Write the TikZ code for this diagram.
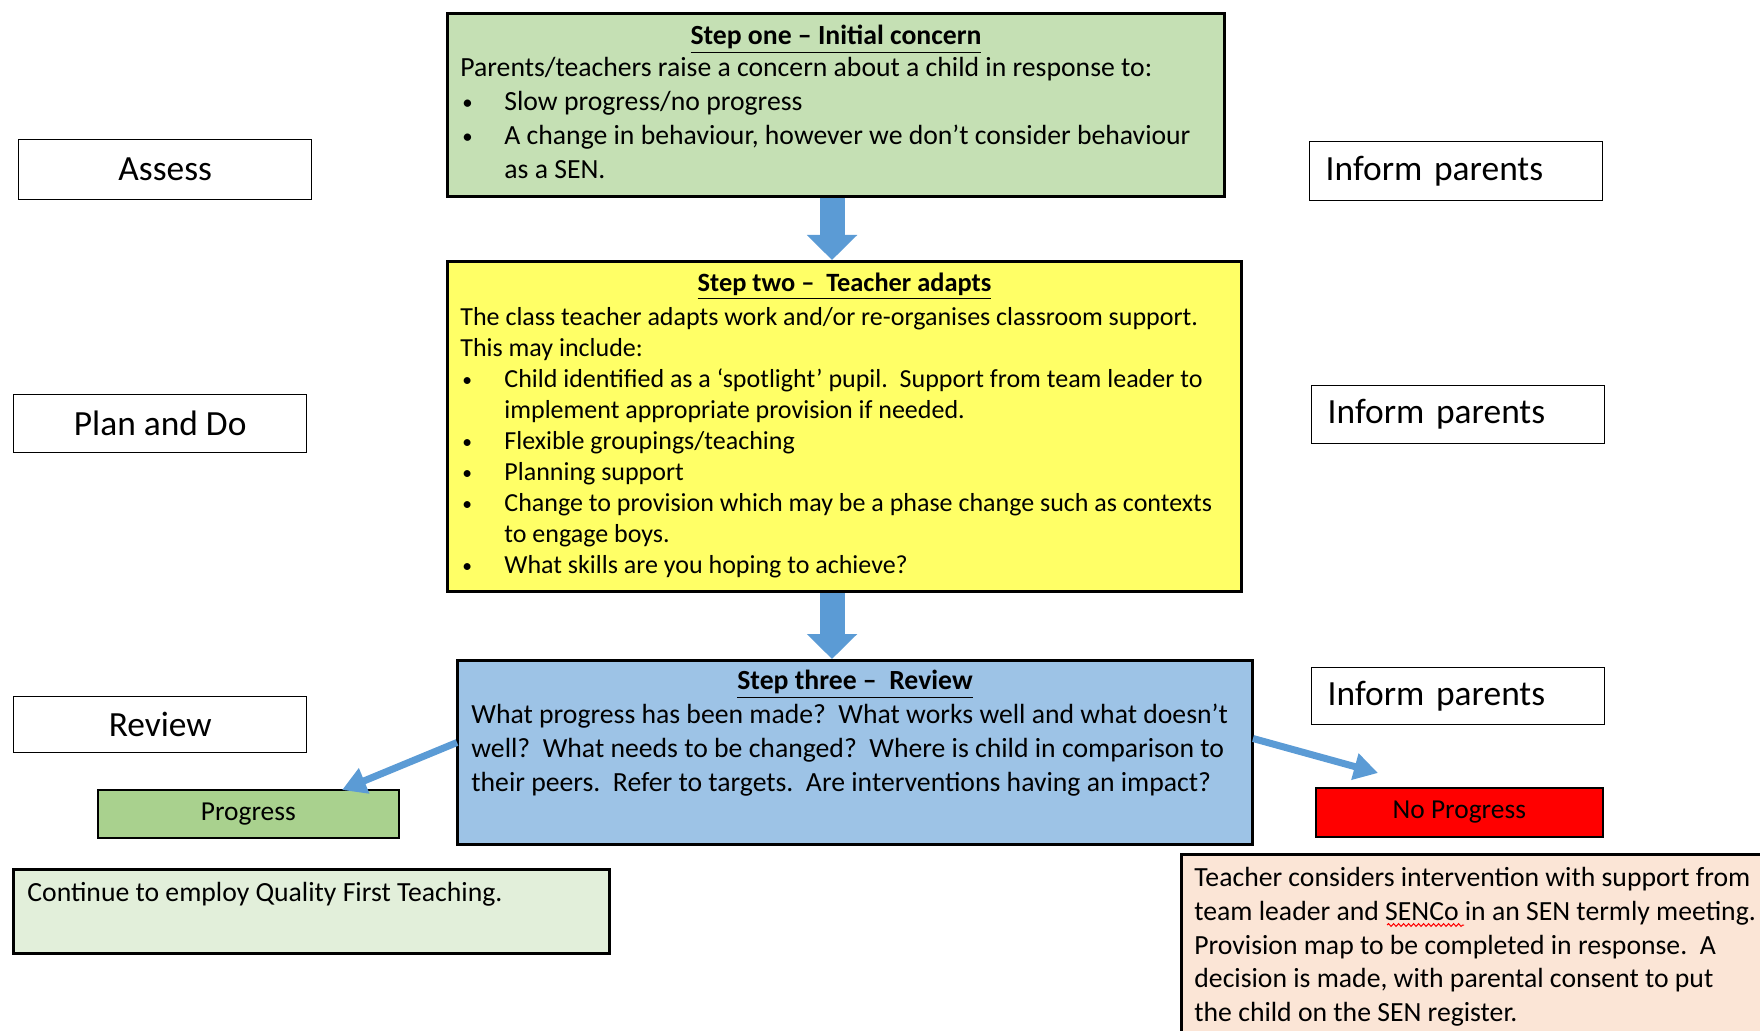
\documentclass[tikz,border=0pt]{standalone}
\usepackage{fontspec}
\setmainfont{Carlito}
\usetikzlibrary{arrows.meta,calc,decorations.pathmorphing}
\definecolor{stepgreen}{RGB}{197,224,180}
\definecolor{stepyellow}{RGB}{255,255,102}
\definecolor{stepblue}{RGB}{157,195,230}
\definecolor{progressgreen}{RGB}{169,209,142}
\definecolor{noprogressred}{RGB}{255,0,0}
\definecolor{palegreen}{RGB}{226,239,218}
\definecolor{palepeach}{RGB}{251,229,214}
\definecolor{arrowblue}{RGB}{91,155,213}
\tikzset{
  stepframe/.style={
    draw=black,
    line width=1.5pt,
    inner sep=0pt,
    anchor=north west
  },
  sidebox/.style={
    draw=black,
    line width=0.7pt,
    fill=white,
    inner sep=0pt,
    anchor=north west,
    minimum width=146.5pt,
    font=\fontsize{17.7}{21}\selectfont
  },
  informbox/.style={
    sidebox,
    inner xsep=8pt,
    text width=130.5pt,
    align=left
  },
  resultbox/.style={
    draw=black,
    line width=0.8pt,
    inner sep=0pt,
    anchor=north west,
    font=\fontsize{13.7}{16}\selectfont
  },
  steptext/.style={
    inner sep=0pt,
    anchor=north west,
    align=left
  },
  stephead/.style={
    inner sep=0pt,
    anchor=north,
    font=\fontsize{13.85}{17}\selectfont\bfseries
  },
  blockarrow/.style={
    draw=arrowblue,
    line width=12.5pt,
    -{Triangle[width=24.5pt,length=12.5pt]}
  },
  thinarrow/.style={
    draw=arrowblue,
    line width=3.5pt,
    -{Triangle[width=13pt,length=12pt]}
  },
  spellmark/.style={
    draw=red,
    line width=0.5pt,
    decorate,
    decoration={snake, amplitude=0.7pt, segment length=2.5pt}
  }
}
\newcommand{\bul}{\makebox[22pt][l]{\hspace{1pt}\raisebox{0.1ex}{\scalebox{0.75}{\textbullet}}}}
\newcommand{\bulgap}{\hspace*{22pt}}

\begin{document}
\begin{tikzpicture}[x=0.5pt,y=-0.5pt]
  \clip (0,0) rectangle (1760,1031);
  \node[stepframe, fill=stepgreen, minimum width=388.5pt, minimum height=91.5pt]
    (one) at (446,12) {};
  \node[stepframe, fill=stepyellow, minimum width=397pt, minimum height=165pt]
    (two) at (446,260) {};
  \node[stepframe, fill=stepblue, minimum width=397.5pt, minimum height=92pt]
    (three) at (456,659) {};
  \node[stepframe, fill=palegreen, minimum width=298pt, minimum height=42pt]
    (continue) at (12,868) {};
  \node[stepframe, fill=palepeach, minimum width=310pt, minimum height=105pt]
    (intervene) at (1180,853) {};

  \node[stephead] (one-head) at ($(one.north)+(0,13)$)
    {\underline{Step one -- Initial concern}};
  \node[steptext, font=\fontsize{13.85}{17}\selectfont]
    (one-text) at ($(one.north west)+(14,45)$)
    {Parents/teachers raise a concern about a child in response to:\\
     \bul Slow progress/no progress\\
     \bul A change in behaviour, however we don't consider behaviour\\
     \bulgap as a SEN.};

  \node[stephead, font=\fontsize{13.2}{16}\selectfont\bfseries] (two-head)
    at ($(two.north)+(0,13)$)
    {\underline{Step two --~ Teacher adapts}};
  \node[steptext, font=\fontsize{13}{15.5}\selectfont]
    (two-text) at ($(two.north west)+(14,47)$)
    {The class teacher adapts work and/or re-organises classroom support.\\
     This may include:\\
     \bul Child identified as a `spotlight' pupil.\ \ Support from team leader to\\
     \bulgap implement appropriate provision if needed.\\
     \bul Flexible groupings/teaching\\
     \bul Planning support\\
     \bul Change to provision which may be a phase change such as contexts\\
     \bulgap to engage boys.\\
     \bul What skills are you hoping to achieve?};

  \node[stephead] (three-head) at ($(three.north)+(0,11)$)
    {\underline{Step three --~ Review}};
  \node[steptext, font=\fontsize{13.85}{16.9}\selectfont]
    (three-text) at ($(three.north west)+(15,45)$)
    {What progress has been made?\ \ What works well and what doesn't\\
     well?\ \ What needs to be changed?\ \ Where is child in comparison to\\
     their peers.\ \ Refer to targets.\ \ Are interventions having an impact?};

  \node[steptext, font=\fontsize{13.85}{17}\selectfont]
    (continue-text) at ($(continue.north west)+(15,14)$)
    {Continue to employ Quality First Teaching.};
  \node[steptext, font=\fontsize{13.85}{16.85}\selectfont]
    (intervene-text) at ($(intervene.north west)+(14,14)$)
    {Teacher considers intervention with support from\\
     team leader and SENCo in an SEN termly meeting.\\
     Provision map to be completed in response.\ \ A\\
     decision is made, with parental consent to put\\
     the child on the SEN register.};
  \draw[spellmark] ($(intervene-text.north west)+(193,58)$)
    -- ($(intervene-text.north west)+(270,58)$);

  \node[sidebox, minimum height=30pt] (assess) at (18,139) {Assess};
  \node[sidebox, minimum height=29pt] (plan) at (13,394) {Plan and Do};
  \node[sidebox, minimum height=28pt] (review) at (13,696) {Review};
  \node[informbox, minimum height=29.5pt] (inform-one) at (1309,141) {Inform parents};
  \node[informbox, minimum height=29pt] (inform-two) at (1311,385) {Inform parents};
  \node[informbox, minimum height=28.5pt] (inform-three) at (1311,667) {Inform parents};

  \node[resultbox, fill=progressgreen, minimum width=150.5pt, minimum height=24pt]
    (progress) at (97,789) {Progress};
  \node[resultbox, fill=noprogressred, minimum width=143.5pt, minimum height=24.5pt]
    (noprogress) at (1315,787) {No Progress};

  \coordinate (spine) at (832,0);
  \draw[blockarrow] (one.south -| spine) -- (two.north -| spine);
  \draw[blockarrow] (two.south -| spine) -- (three.north -| spine);
  \draw[thinarrow] ($(three.west)+(1,-10)$) -- ($(progress.north west)+(245,1)$);
  \draw[thinarrow] ($(three.east)+(-1,-14)$) -- ($(noprogress.north west)+(63,-14)$);
\end{tikzpicture}
\end{document}
